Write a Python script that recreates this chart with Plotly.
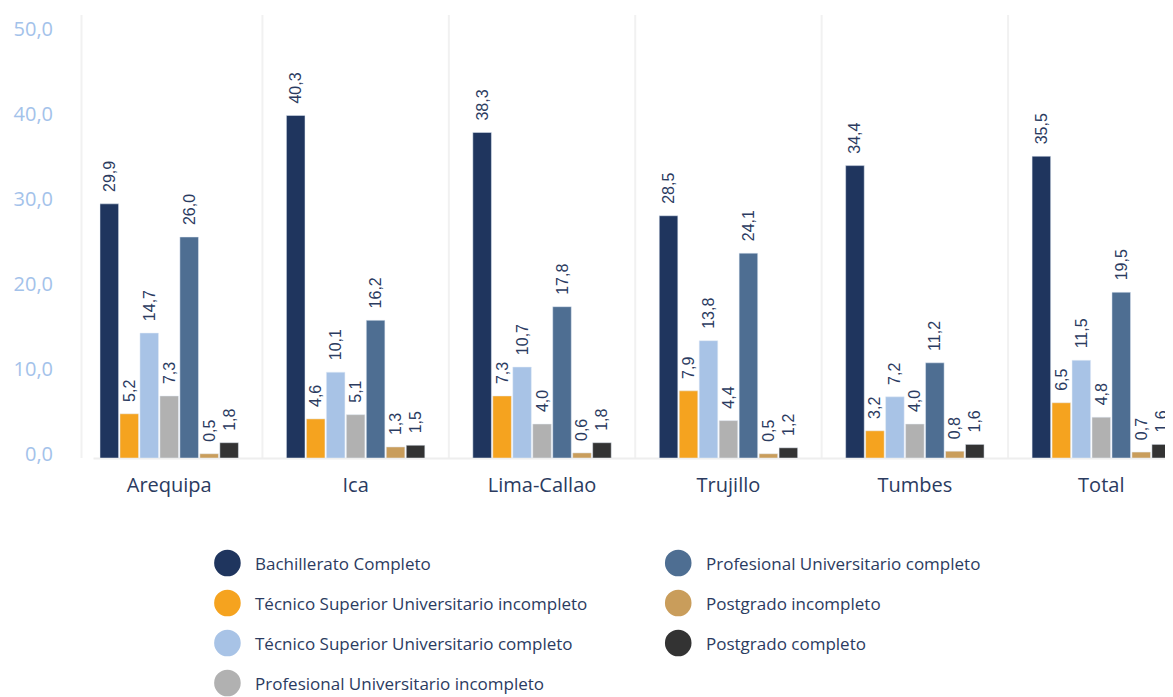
import plotly.graph_objects as go

categories = ["Arequipa", "Ica", "Lima-Callao", "Trujillo", "Tumbes", "Total"]
series_names = [
    "Bachillerato Completo",
    "Técnico Superior Universitario incompleto",
    "Técnico Superior Universitario completo",
    "Profesional Universitario incompleto",
    "Profesional Universitario completo",
    "Postgrado incompleto",
    "Postgrado completo",
]
bachillerato = [29.9, 40.3, 38.3, 28.5, 34.4, 35.5]
tec_incompleto = [5.2, 4.6, 7.3, 7.9, 3.2, 6.5]
tec_completo = [14.7, 10.1, 10.7, 13.8, 7.2, 11.5]
prof_incompleto = [7.3, 5.1, 4.0, 4.4, 4.0, 4.8]
prof_completo = [26.0, 16.2, 17.8, 24.1, 11.2, 19.5]
post_incompleto = [0.5, 1.3, 0.6, 0.5, 0.8, 0.7]
post_completo = [1.8, 1.5, 1.8, 1.2, 1.6, 1.6]
series_values = [bachillerato, tec_incompleto, tec_completo, prof_incompleto,
                 prof_completo, post_incompleto, post_completo]
y_tick_values = [0, 10, 20, 30, 40, 50]
y_tick_labels = ["0,0", "10,0", "20,0", "30,0", "40,0", "50,0"]

colors = ["#1f355e", "#f5a31f", "#a8c3e6", "#b1b1b1", "#4e6e92", "#c99d5b", "#333333"]
TEXT = "#2b3b5f"

OFF = 8  # default page body margin
W, H = 1173 - OFF, 697 - OFF
# page-pixel geometry of the plot area
PL, PT, PB = 75.5, 15, 458
L, T = PL - OFF, PT - OFF
B = H - (PB - OFF)
R = 0
PW, PH = W - L - R, H - T - B
XMIN = -0.5
XMAX = XMIN + PW / 186.5

fig = go.Figure()
for name, vals, col in zip(series_names, series_values, colors):
    fig.add_trace(go.Bar(
        x=categories, y=vals, name=name, marker_color=col,
        text=["\u00a0\u00a0" + f"{v:.1f}".replace(".", ",") for v in vals],
        textposition="outside", textangle=-90, constraintext="none",
        textfont=dict(family="Liberation Sans, Arial", size=16, color=TEXT),
        cliponaxis=False, showlegend=False,
    ))

def px_x(p):
    return (p - PL) / PW

def px_y(p):
    return (PB - p) / PH

shapes = []
for i in range(len(categories) - 1):
    shapes.append(dict(type="line", xref="x", yref="paper", x0=i + 0.5, x1=i + 0.5,
                       y0=0, y1=1, line=dict(color="#f1f1f1", width=2), layer="below"))
shapes.append(dict(type="line", xref="paper", yref="paper", x0=px_x(81), x1=px_x(81),
                   y0=0, y1=1, line=dict(color="#f1f1f1", width=2), layer="below"))
shapes.append(dict(type="line", xref="paper", yref="paper", x0=px_x(93), x1=1,
                   y0=px_y(458.5), y1=px_y(458.5), line=dict(color="#eeeeee", width=2),
                   layer="below"))

annotations = []
rad = 13.3
for i, (name, col) in enumerate(zip(series_names, colors)):
    c, r = divmod(i, 4)
    cx = 227 + c * 451
    cy = 563 + r * 40
    shapes.append(dict(type="circle", xref="paper", yref="paper",
                       x0=px_x(cx - rad), x1=px_x(cx + rad),
                       y0=px_y(cy + rad), y1=px_y(cy - rad),
                       fillcolor=col, line=dict(width=0)))
    annotations.append(dict(xref="paper", yref="paper", x=px_x(cx + 26), y=px_y(cy),
                            text=name, showarrow=False, xanchor="left", yanchor="middle",
                            font=dict(family="Open Sans", size=17, color=TEXT)))

fig.update_layout(
    width=W, height=H,
    margin=dict(l=L, r=R, t=T, b=B, pad=0),
    paper_bgcolor="white", plot_bgcolor="white",
    barmode="group", bargap=0.25, bargroupgap=0.07,
    showlegend=False,
    shapes=shapes, annotations=annotations,
    xaxis=dict(range=[XMIN, XMAX], showgrid=False, zeroline=False, showline=False,
               ticks="", tickfont=dict(family="Open Sans", size=20, color=TEXT),
               ticklabelstandoff=13),
    yaxis=dict(range=[0, PH / 8.5], tickvals=y_tick_values, ticktext=y_tick_labels,
               showgrid=False, zeroline=False, showline=False, ticks="",
               tickfont=dict(family="Open Sans", size=20, color="#a3c2ea"),
               ticklabelstandoff=22, ticklabelshift=-4),
    font=dict(family="Open Sans"),
)

fig.write_html("out.html")
